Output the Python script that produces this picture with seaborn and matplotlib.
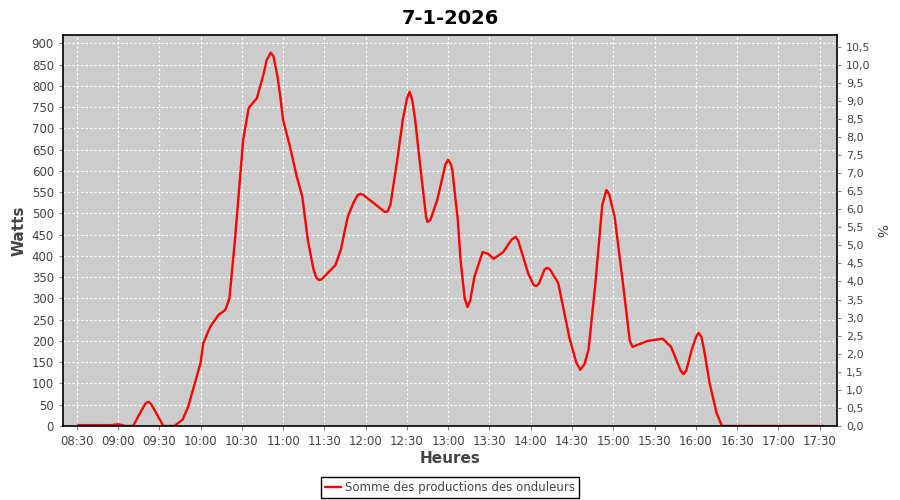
import matplotlib
matplotlib.use('Agg')
import matplotlib.pyplot as plt
import pandas as pd
import numpy as np
import seaborn as sns

# production (time -> watts)
times = ['08:31', '08:55', '09:00', '09:03', '09:05', '09:11', '09:16', '09:20', '09:22', '09:24',
         '09:27', '09:33', '09:41', '09:47', '09:51', '10:00', '10:02', '10:07', '10:13', '10:18',
         '10:21', '10:25', '10:31', '10:35', '10:41', '10:46', '10:48', '10:51', '10:53', '10:56',
         '10:58', '11:00', '11:05', '11:10', '11:14', '11:18', '11:22', '11:24', '11:26', '11:28',
         '11:31', '11:38', '11:42', '11:47', '11:51', '11:54', '11:56', '11:58', '12:06', '12:14',
         '12:16', '12:18', '12:23', '12:27', '12:30', '12:32', '12:34', '12:36', '12:40', '12:44',
         '12:45', '12:47', '12:52', '12:58', '13:00', '13:02', '13:03', '13:07', '13:09', '13:12',
         '13:14', '13:16', '13:19', '13:25', '13:29', '13:33', '13:40', '13:46', '13:49', '13:51',
         '13:58', '14:02', '14:04', '14:06', '14:10', '14:12', '14:14', '14:20', '14:28', '14:33',
         '14:36', '14:39', '14:42', '14:47', '14:52', '14:55', '14:57', '15:01', '15:07', '15:12',
         '15:14', '15:17', '15:25', '15:33', '15:36', '15:42', '15:49', '15:51', '15:53', '15:57',
         '16:00', '16:02', '16:04', '16:06', '16:10', '16:15', '16:19', '17:33']
watts = [2, 2, 4, 2, 0, 0, 30, 53, 57, 52,
         35, 0, 0, 15, 45, 148, 195, 233, 261, 273,
         300, 437, 673, 748, 771, 830, 860, 878, 870, 820,
         774, 720, 657, 586, 539, 437, 370, 350, 343, 345,
         355, 378, 415, 492, 524, 542, 546, 544, 524, 503,
         505, 520, 626, 720, 770, 786, 765, 720, 602, 490,
         480, 484, 531, 615, 626, 615, 602, 484, 390, 300,
         280, 295, 350, 409, 405, 393, 409, 438, 445, 435,
         360, 332, 329, 335, 368, 372, 368, 336, 209, 150,
         132, 145, 179, 336, 520, 555, 545, 492, 336, 200,
         186, 190, 200, 204, 205, 186, 130, 122, 130, 179,
         208, 219, 210, 179, 101, 31, 0, 0]

tick_labels = ['08:30', '09:00', '09:30', '10:00', '10:30', '11:00', '11:30', '12:00', '12:30',
               '13:00', '13:30', '14:00', '14:30', '15:00', '15:30', '16:00', '16:30', '17:00', '17:30']
watt_ticks = list(range(0, 901, 50))
pct_ticks = [i * 0.5 for i in range(22)]


def to_hours(t):
    h, m = t.split(':')
    return int(h) + int(m) / 60


df = pd.DataFrame({'heure': [to_hours(t) for t in times], 'watts': watts})

sns.set_style('whitegrid', {'axes.facecolor': '#cccccc', 'grid.color': 'white',
                            'grid.linestyle': (0, (2, 2)), 'axes.edgecolor': 'black'})
plt.rcParams['font.family'] = ['DejaVu Sans']

fig = plt.figure(figsize=(9, 5), dpi=100)
ax = fig.add_axes([63 / 900, 74 / 500, 774 / 900, 391 / 500])

sns.lineplot(data=df, x='heure', y='watts', color='#ff0000', linewidth=1.7, ax=ax,
             label='Somme des productions des onduleurs')

ax.set_xlim(8.334, 17.71)
ax.set_ylim(0, 919.5)
ax.set_xticks([to_hours(t) for t in tick_labels])
ax.set_xticklabels(tick_labels)
ax.set_yticks(watt_ticks)
ax.grid(True, color='white', linestyle=(0, (2, 2)), linewidth=0.8)
ax.tick_params(axis='both', labelsize=8.5, labelcolor='#444444', color='#888888',
               length=3, width=0.8, direction='out', left=True, bottom=True)
for s in ax.spines.values():
    s.set_color('black')
    s.set_linewidth(1.2)

ax.set_xlabel('Heures', fontsize=11, fontweight='bold', color='#444444', labelpad=2)
ax.set_ylabel('Watts', fontsize=11, fontweight='bold', color='#444444', labelpad=4)
ax.set_title('7-1-2026', fontsize=14, fontweight='bold', color='black', pad=8)

# right percent axis
ax2 = ax.twinx()
ax2.set_ylim(0, 10.82)
ax2.set_yticks(pct_ticks)
ax2.set_yticklabels([f'{v:.1f}'.replace('.', ',') for v in pct_ticks])
ax2.grid(False)
ax2.tick_params(axis='y', labelsize=8, labelcolor='#444444', color='#888888',
                length=3, width=0.8, direction='out', right=True)
ax2.set_ylabel('%', fontsize=10, color='#444444', rotation=270, labelpad=12)
for s in ax2.spines.values():
    s.set_visible(False)

leg = ax.legend(loc='upper center', bbox_to_anchor=(0.5, -0.13), frameon=True,
                fontsize=8.5, handlelength=1.4, handletextpad=0.3, borderpad=0.35,
                fancybox=False, borderaxespad=0)
leg.get_frame().set_facecolor('white')
leg.get_frame().set_edgecolor('black')
leg.get_frame().set_linewidth(1)
leg.get_frame().set_alpha(1)
for t in leg.get_texts():
    t.set_color('#444444')

plt.savefig('out.png', dpi=100)
